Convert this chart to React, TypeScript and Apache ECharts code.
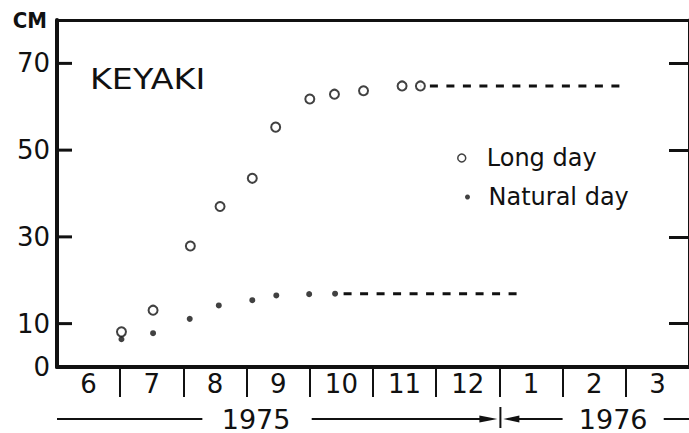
import React, { useEffect, useRef } from "react";
import * as echarts from "echarts";

// Month axis: 0 = start of June 1975, one unit per month
const monthLabels = ["6", "7", "8", "9", "10", "11", "12", "1", "2", "3"];
const yTickValues = [10, 30, 50, 70];
const yLabelValues = [0, 10, 30, 50, 70];
const yearLabels = ["1975", "1976"];

// [month position, height cm]
const longDay: [number, number][] = [
  [1.02, 8.1], [1.52, 13.1], [2.11, 27.9], [2.58, 37.0], [3.09, 43.5], [3.46, 55.3],
  [4.0, 61.8], [4.39, 62.9], [4.85, 63.7], [5.46, 64.8], [5.75, 64.8],
];
const naturalDay: [number, number][] = [
  [1.02, 6.4], [1.52, 7.8], [2.1, 11.1], [2.56, 14.2], [3.09, 15.4], [3.47, 16.5],
  [3.99, 16.8], [4.4, 16.9],
];
const longDayPlateau: [number, number][] = [[5.75, 64.8], [8.95, 64.8]];
const naturalDayPlateau: [number, number][] = [[4.4, 16.9], [7.36, 16.9]];

const INK = "#111";
const FONT = "'DejaVu Sans', 'Liberation Sans', sans-serif";

export default function App() {
  const ref = useRef<HTMLDivElement>(null);
  useEffect(() => {
    if (!ref.current) return;
    const chart = echarts.init(ref.current, undefined, { renderer: "svg" });
    const option: any = {
      animation: false,
      backgroundColor: "#fff",
      textStyle: { fontFamily: FONT, color: INK },
      grid: { left: 57, top: 20, width: 640, height: 347, containLabel: false },
      legend: [
        {
          data: ["Long day"], left: 457, top: 146, itemWidth: 40, itemHeight: 8, icon: "circle",
          padding: 0, selectedMode: false, itemStyle: { borderWidth: 1.5 },
          textStyle: { fontFamily: FONT, fontSize: 24, color: INK },
        },
        {
          data: ["Natural day"], left: 465, top: 185, itemWidth: 32, itemHeight: 5, icon: "circle",
          padding: 0, selectedMode: false,
          textStyle: { fontFamily: FONT, fontSize: 24, color: INK },
        },
      ],
      xAxis: [
        {
          type: "value", min: 0, max: 10, position: "bottom",
          axisLine: { show: true, onZero: false, lineStyle: { color: INK, width: 4 } },
          axisTick: {
            show: true, inside: false, length: 30,
            customValues: monthLabels.slice(1).map((_, i) => i + 1),
            lineStyle: { color: INK, width: 2 },
          },
          axisLabel: {
            customValues: monthLabels.map((_, i) => i + 0.5),
            formatter: (v: number) => monthLabels[Math.floor(v)] ?? "",
            fontSize: 26, color: INK, margin: 4, fontFamily: FONT,
          },
          splitLine: { show: false },
        },
        {
          type: "value", min: 0, max: 10, position: "top",
          axisLine: { show: true, onZero: false, lineStyle: { color: INK, width: 3 } },
          axisTick: { show: false }, axisLabel: { show: false }, splitLine: { show: false },
        },
      ],
      yAxis: [
        {
          type: "value", min: 0, max: 80, position: "left",
          name: "CM", nameLocation: "end", nameGap: 0,
          nameTextStyle: {
            align: "right", verticalAlign: "middle", padding: [0, 10, 0, 0],
            fontWeight: "bold", fontSize: 22, color: INK,
            fontFamily: "'Liberation Sans Narrow', 'DejaVu Sans Condensed', sans-serif",
          },
          axisLine: { show: true, onZero: false, lineStyle: { color: INK, width: 4 } },
          axisTick: { show: false },
          axisLabel: { customValues: yLabelValues, fontSize: 26, color: INK, margin: 7, fontFamily: FONT },
          splitLine: { show: false },
        },
        {
          type: "value", min: 0, max: 80, position: "right",
          axisLine: { show: true, onZero: false, lineStyle: { color: INK, width: 3 } },
          axisTick: { show: true, inside: true, length: 20, customValues: yTickValues, lineStyle: { color: INK, width: 3 } },
          axisLabel: { show: false }, splitLine: { show: false },
        },
      ],
      series: [
        {
          name: "Long day plateau", type: "line", data: longDayPlateau, symbol: "none", silent: true, z: 1,
          lineStyle: { color: INK, width: 3, type: [8, 8.5], dashOffset: 6.5 },
        },
        {
          name: "Natural day plateau", type: "line", data: naturalDayPlateau, symbol: "none", silent: true, z: 1,
          lineStyle: { color: INK, width: 3, type: [8, 8.5], dashOffset: 7.5 },
        },
        {
          name: "Long day", type: "scatter", data: longDay, symbol: "circle", symbolSize: 9, z: 3,
          itemStyle: { color: "#fff", borderColor: INK, borderWidth: 2 },
        },
        {
          name: "Natural day", type: "scatter", data: naturalDay, symbol: "circle", symbolSize: 6, z: 4,
          itemStyle: { color: INK },
        },
      ],
    };
    chart.setOption(option);

    const px = (m: number) => chart.convertToPixel({ xAxisIndex: 0 }, m) as number;
    const py = (v: number) => chart.convertToPixel({ yAxisIndex: 0 }, v) as number;
    const yy = 419;
    const ls = { stroke: INK, lineWidth: 2 };
    const tip1 = px(7) - 2;
    const tip2 = px(7) + 4;
    const x0 = px(0);
    const yearText = { fontSize: 27, lineHeight: 26, fontFamily: FONT, fill: INK, align: "center", verticalAlign: "middle" };
    chart.setOption({
      graphic: [
        ...yTickValues.map((v) => ({
          type: "rect", z: 100, shape: { x: x0, y: py(v) - 1.5, width: 15, height: 3 },
          style: { fill: INK },
        })),
        {
          type: "text", x: 90, y: 79, scaleX: 1.15,
          style: { text: "KEYAKI", fontSize: 29, fontFamily: FONT, fill: INK, verticalAlign: "middle", align: "left" },
        },
        { type: "line", shape: { x1: px(0), y1: yy, x2: px(2.3), y2: yy }, style: ls },
        { type: "text", x: px(3.15), y: yy, style: { ...yearText, text: yearLabels[0] } },
        { type: "line", shape: { x1: px(4.03), y1: yy, x2: tip1 - 10, y2: yy }, style: ls },
        { type: "polygon", shape: { points: [[tip1, yy], [tip1 - 18, yy - 3.5], [tip1 - 18, yy + 3.5]] }, style: { fill: INK } },
        { type: "line", shape: { x1: px(7) + 1, y1: 407, x2: px(7) + 1, y2: 428 }, style: ls },
        { type: "polygon", shape: { points: [[tip2, yy], [tip2 + 16, yy - 3.5], [tip2 + 16, yy + 3.5]] }, style: { fill: INK } },
        { type: "line", shape: { x1: tip2 + 10, y1: yy, x2: px(8.0), y2: yy }, style: ls },
        { type: "text", x: px(8.8), y: yy, style: { ...yearText, text: yearLabels[1] } },
        { type: "line", shape: { x1: px(9.6), y1: yy, x2: px(10), y2: yy }, style: ls },
      ],
    });
    return () => chart.dispose();
  }, []);
  return <div ref={ref} style={{ position: "fixed", left: 0, top: 0, width: 689, height: 433 }} />;
}
